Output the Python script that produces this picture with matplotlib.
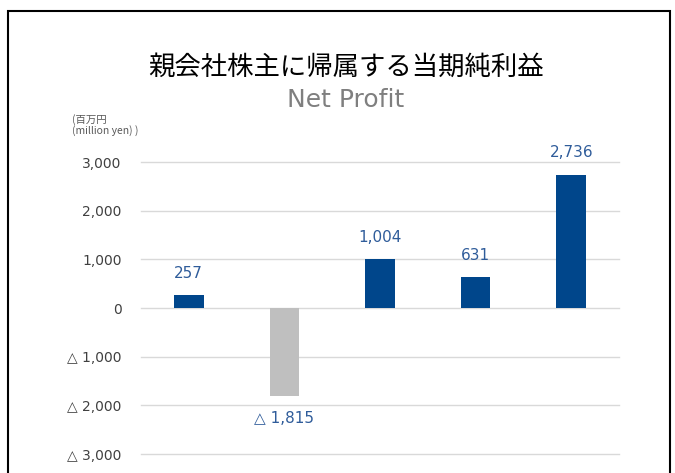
import matplotlib.pyplot as plt
import matplotlib.patches as patches
import numpy as np

# values in million yen
periods = ['1', '2', '3', '4', '5']
profit = [257, -1815, 1004, 631, 2736]
bar_colors = ['#00468B', '#BFBFBF', '#00468B', '#00468B', '#00468B']
yticks = [-3000, -2000, -1000, 0, 1000, 2000, 3000]

plt.rcParams['font.family'] = ['DejaVu Sans', 'Noto Sans CJK JP']


def fmt(v):
    if v < 0:
        return '△ {:,}'.format(-v)
    return '{:,}'.format(v)


fig = plt.figure(figsize=(6.75, 4.73), dpi=100)
ax = fig.add_axes([141 / 675, 19 / 473, 478 / 675, 292 / 473])

x = np.arange(len(periods))
bars = ax.bar(x, profit, width=0.31, color=bar_colors, zorder=3)

for xi, v in zip(x, profit):
    off = 22 if v >= 0 else -22
    ax.annotate(fmt(v), (xi, v), xytext=(0, off * 0.72), textcoords='offset points',
                ha='center', va='center', fontsize=11, color='#2F5C9A')

ax.set_xlim(-0.5, len(periods) - 0.5)
ax.set_ylim(-3000, 3000)
ax.set_yticks(yticks)
ax.set_yticklabels([fmt(t) for t in yticks], fontsize=10, color='#404040')
ax.tick_params(axis='y', length=0, pad=14)
ax.set_xticks([])
ax.grid(axis='y', color='#D9D9D9', lw=1, zorder=0)
for s in ax.spines.values():
    s.set_visible(False)
for gl in ax.get_ygridlines():
    gl.set_clip_on(False)

fig.text(346 / 675, 1 - 67 / 473, '親会社株主に帰属する当期純利益', ha='center', va='center',
         fontsize=19, color='#000000', family=['Noto Sans CJK JP', 'DejaVu Sans'])
fig.text(346 / 675, 1 - 100 / 473, 'Net Profit', ha='center', va='center',
         fontsize=18, color='#7F7F7F')
fig.text(72 / 675, 1 - 125 / 473, '(百万円\n(million yen) )', ha='left', va='center',
         fontsize=7.5, color='#595959', linespacing=1.0,
         family=['Noto Sans CJK JP', 'DejaVu Sans'])

border = patches.Rectangle((8 / 675, -0.1), 662 / 675, 1.1 - 11 / 473,
                           transform=fig.transFigure, fill=False, edgecolor='black',
                           lw=1.5, clip_on=False)
fig.patches.append(border)

fig.savefig('out.png', dpi=100)
